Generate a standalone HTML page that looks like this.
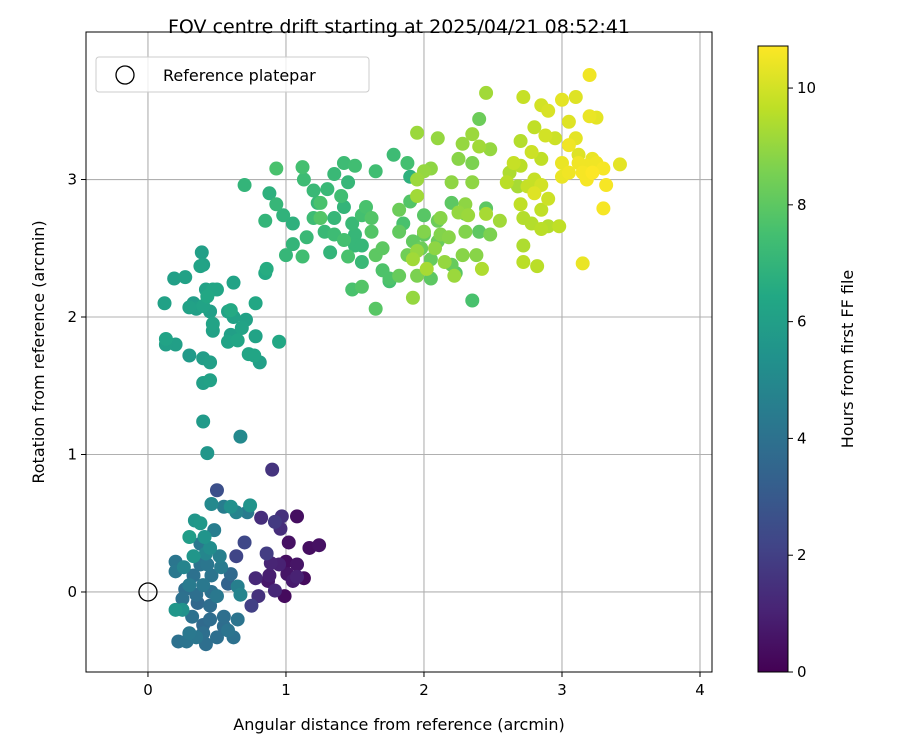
<!DOCTYPE html>
<html><head><meta charset="utf-8"><style>
body{margin:0;background:#fff}
svg{display:block;font-family:"DejaVu Sans","Liberation Sans",sans-serif}
</style></head><body>
<svg id="chart" width="900" height="750" viewBox="0 0 900 750">
<defs><linearGradient id="vir" x1="0" y1="1" x2="0" y2="0">
<stop offset="0" stop-color="#440154"/><stop offset="0.1" stop-color="#482475"/><stop offset="0.2" stop-color="#414487"/><stop offset="0.3" stop-color="#355f8d"/><stop offset="0.4" stop-color="#2a788e"/><stop offset="0.5" stop-color="#21918c"/><stop offset="0.6" stop-color="#22a884"/><stop offset="0.7" stop-color="#44bf70"/><stop offset="0.8" stop-color="#7ad151"/><stop offset="0.9" stop-color="#bddf26"/><stop offset="1" stop-color="#fde725"/>
</linearGradient></defs>
<text x="399" y="33" font-size="19" text-anchor="middle">FOV centre drift starting at 2025/04/21 08:52:41</text>
<g id="grid"></g><g id="pts"></g><g id="axes"></g>
<g>
<rect x="96" y="57" width="273" height="35" rx="3" fill="#fff" fill-opacity="0.8" stroke="#ccc"/>
<circle cx="125" cy="75" r="9" fill="none" stroke="#000" stroke-width="1.3"/>
<text x="163" y="81" font-size="16">Reference platepar</text>
</g>
<text x="399" y="730" font-size="16" text-anchor="middle">Angular distance from reference (arcmin)</text>
<text transform="translate(44,352) rotate(-90)" font-size="16" text-anchor="middle">Rotation from reference (arcmin)</text>
<rect x="758" y="46" width="30" height="626" fill="url(#vir)" stroke="#000" stroke-width="1"/>
<g id="cbticks"></g>
<text transform="translate(853,359) rotate(-90)" font-size="16" text-anchor="middle">Hours from first FF file</text>
</svg>
<script>
const xTicks=[0,1,2,3,4];
const yTicks=[0,1,2,3];
const cbTicks=[0,2,4,6,8,10];
const xVals=[0.90,1.02,1.00,1.08,1.13,1.05,0.95,0.87,0.92,0.99,1.17,1.24,1.08,0.97,0.92,0.96,0.86,0.78,0.80,0.89,0.64,1.08,0.75,0.88,1.01,0.82,0.70,
0.5,0.46,0.64,0.6,0.72,0.74,0.55,0.34,0.38,0.41,0.3,0.45,0.52,0.33,0.38,0.26,0.2,0.2,0.46,0.58,0.4,0.3,0.65,0.35,0.25,0.5,0.45,0.2,0.25,0.32,0.45,0.55,0.65,0.58,0.4,0.35,0.22,0.3,0.5,0.62,0.55,0.42,0.28,0.6,0.42,0.48,0.38,0.33,0.27,0.43,0.36,0.46,0.53,0.4,0.67,
0.43,0.67,0.4,0.4,0.45,0.45,0.4,0.3,0.2,0.13,0.13,0.58,0.6,0.68,0.71,0.47,0.47,0.35,0.3,0.4,0.43,0.47,0.42,0.65,0.77,0.73,0.81,0.95,0.78,0.78,0.58,0.62,0.33,0.12,0.19,0.27,0.38,0.4,0.39,0.62,0.5,0.45,0.85,0.86,0.6,
0.7,0.93,0.88,0.93,1.12,1.13,1.2,1.23,0.98,0.85,1.05,1.2,1.25,1.15,1.05,1.0,1.12,1.3,1.35,1.35,1.42,1.5,1.35,1.45,1.4,1.42,1.48,1.55,1.5,1.45,1.5,1.55,1.48,1.55,1.65,1.65,1.7,1.75,1.62,1.7,1.65,1.78,1.88,1.9,1.92,1.85,1.82,1.88,1.82,1.95,1.62,1.42,1.28,1.25,1.55,1.58,1.32,1.75,2.0,2.1,2.2,1.82,2.0,1.9,2.05,2.2,2.23,2.35,2.05,2.4,1.98,2.45,2.3,2.1,
1.95,2.1,2.25,2.05,1.95,2.0,2.35,2.4,2.28,2.35,2.45,2.4,2.48,1.95,2.2,2.25,2.32,2.45,2.55,2.48,2.3,2.18,2.28,2.12,2.08,1.95,1.92,2.02,2.15,2.22,2.42,2.38,1.92,2.0,2.12,2.3,2.35,2.62,2.6,
2.65,2.7,2.75,2.7,2.72,2.78,2.72,2.72,2.68,2.7,2.72,2.85,2.9,2.8,2.88,2.95,2.85,2.78,2.8,2.85,2.9,2.8,2.85,2.85,2.9,2.98,2.82,3.0,3.1,3.2,3.2,3.25,3.05,3.1,3.05,3.12,3.0,3.05,3.15,3.18,3.22,3.25,3.3,3.32,3.3,3.22,3.0,3.42,3.15,3.18,3.12];
const yVals=[0.89,0.36,0.22,0.20,0.10,0.08,0.20,0.08,0.01,-0.03,0.32,0.34,0.55,0.55,0.51,0.46,0.28,0.10,-0.03,0.21,0.26,0.11,-0.10,0.12,0.13,0.54,0.36,
0.74,0.64,0.58,0.62,0.58,0.63,0.62,0.52,0.5,0.4,0.4,0.32,0.26,0.26,0.2,0.18,0.22,0.15,0.12,0.06,0.05,0.05,0.04,-0.02,-0.05,-0.03,-0.1,-0.13,-0.13,-0.18,-0.2,-0.18,-0.2,-0.28,-0.3,-0.33,-0.36,-0.3,-0.33,-0.33,-0.25,-0.38,-0.36,0.13,0.28,0.45,0.35,0.12,0.02,0.2,-0.08,0.0,0.18,-0.24,-0.02,
1.01,1.13,1.24,1.52,1.54,1.67,1.7,1.72,1.8,1.8,1.84,1.82,1.87,1.92,1.98,1.9,1.95,2.06,2.07,2.08,2.15,2.2,2.2,1.83,1.72,1.73,1.67,1.82,1.86,2.1,2.04,2.0,2.1,2.1,2.28,2.29,2.37,2.38,2.47,2.25,2.2,2.04,2.32,2.35,2.05,
2.96,3.08,2.9,2.82,3.09,3.0,2.92,2.83,2.74,2.7,2.68,2.72,2.83,2.58,2.53,2.45,2.44,2.93,2.72,2.6,3.12,3.1,3.04,2.98,2.88,2.8,2.68,2.74,2.6,2.44,2.52,2.4,2.2,2.22,2.06,2.45,2.34,2.28,2.62,2.5,3.06,3.18,3.12,3.02,2.55,2.68,2.78,2.45,2.3,2.3,2.72,2.56,2.62,2.72,2.52,2.8,2.47,2.26,2.6,2.7,2.83,2.62,2.74,2.84,2.28,2.38,2.32,2.12,2.42,2.62,2.5,2.79,2.75,2.55,
3.34,3.3,3.15,3.08,3.0,3.06,3.33,3.24,3.26,3.12,3.63,3.44,3.22,2.88,2.98,2.76,2.74,2.75,2.7,2.6,2.62,2.58,2.45,2.6,2.5,2.48,2.42,2.35,2.4,2.3,2.35,2.45,2.14,2.62,2.72,2.82,2.98,3.05,2.98,
3.12,3.1,2.95,2.82,2.72,2.68,2.52,2.4,2.95,3.28,3.6,3.54,3.5,3.38,3.32,3.3,3.15,3.2,3.0,2.96,2.86,2.9,2.78,2.64,2.66,2.66,2.37,3.58,3.6,3.76,3.46,3.45,3.42,3.3,3.25,3.18,3.12,3.05,3.05,3.1,3.15,3.12,3.08,2.96,2.79,3.05,3.02,3.11,2.39,3.0,3.12];
const hours=[1.6,0.5,0.4,0.6,0.3,0.8,1.0,0.7,1.2,0.3,0.4,0.5,0.4,1.5,1.8,1.4,1.9,1.2,1.5,1.1,2.2,1.0,2.0,0.9,0.6,1.4,2.3,
2.6,5.0,4.8,5.3,4.4,5.5,4.5,5.6,5.7,5.5,5.9,5.2,4.6,5.6,4.1,4.8,4.2,4.3,4.1,3.4,4.3,4.4,4.6,3.9,4.0,4.3,3.8,5.6,5.4,4.0,3.8,3.9,4.1,4.1,3.9,4.2,4.0,4.3,3.9,4.0,3.8,3.9,4.1,3.7,4.9,4.5,4.3,4.0,3.9,4.2,3.6,4.0,4.4,3.7,4.8,
5.6,5.0,5.8,6.0,6.1,6.0,5.9,5.8,6.0,6.0,6.2,6.2,6.0,6.2,6.1,6.1,6.2,6.0,6.1,6.2,6.4,6.3,6.1,6.3,6.3,6.3,6.0,6.4,6.2,6.4,6.2,6.1,5.9,6.1,6.0,6.1,6.2,6.1,6.0,6.2,6.3,6.0,6.5,6.6,6.5,
7.0,7.6,6.8,7.1,7.5,7.3,7.2,7.1,6.9,7.0,6.8,7.3,7.6,7.2,7.0,7.1,7.4,7.2,7.1,7.3,7.3,7.4,7.2,7.1,7.4,7.0,7.2,7.5,7.1,7.6,7.1,7.2,7.6,7.8,7.9,8.0,7.7,7.7,7.8,8.0,7.4,7.3,7.5,6.8,8.1,7.6,8.3,8.4,8.2,8.6,7.8,7.5,7.2,7.8,7.1,7.6,7.0,7.5,8.1,8.3,8.0,8.1,7.9,7.8,8.0,8.2,7.9,7.6,8.2,8.0,8.3,8.0,8.2,8.3,
9.1,9.0,8.8,8.9,9.1,9.0,9.1,9.2,9.0,8.6,9.2,8.3,9.0,9.2,8.9,9.0,9.1,9.3,9.2,8.6,8.7,8.8,8.8,8.7,8.9,9.0,9.2,9.3,9.0,9.1,9.4,8.8,9.0,8.7,8.8,8.9,8.9,9.4,9.6,
9.8,9.6,9.8,9.7,9.5,9.5,9.4,9.6,9.3,9.5,9.8,10.0,10.1,9.7,10.0,9.9,9.7,9.9,9.8,10.0,9.9,10.2,9.7,9.6,9.5,9.7,9.6,10.3,10.2,10.5,10.4,10.3,10.2,10.3,10.5,10.2,10.4,10.5,10.6,10.5,10.4,10.5,10.6,10.6,10.6,10.7,10.4,10.3,10.4,10.6,10.5];

const X0=86,X1=712,Y0=32,Y1=672;
const xMin=-0.449,xMax=4.087,yMin=-0.582,yMax=4.073,cMax=10.72;
const sx=v=>X0+(v-xMin)/(xMax-xMin)*(X1-X0);
const sy=v=>Y1-(v-yMin)/(yMax-yMin)*(Y1-Y0);
const NS="http://www.w3.org/2000/svg";
const stops=["#440154","#482475","#414487","#355f8d","#2a788e","#21918c","#22a884","#44bf70","#7ad151","#bddf26","#fde725"];
function hex(h){return [1,3,5].map(i=>parseInt(h.substr(i,2),16));}
function viridis(t){t=Math.max(0,Math.min(1,t))*10;const i=Math.min(9,Math.floor(t)),f=t-i;const a=hex(stops[i]),b=hex(stops[i+1]);return "rgb("+a.map((v,k)=>Math.round(v+(b[k]-v)*f)).join(",")+")";}
function mk(tag,attrs,parent){const e=document.createElementNS(NS,tag);for(const k in attrs)e.setAttribute(k,attrs[k]);parent.appendChild(e);return e;}
const grid=document.getElementById('grid'),axes=document.getElementById('axes'),pts=document.getElementById('pts'),cb=document.getElementById('cbticks');
xTicks.forEach(v=>{const x=sx(v);
 const g=mk('line',{x1:x,x2:x,y1:Y0,y2:Y1,stroke:'#b0b0b0','stroke-width':1.1},grid);
 
 
 mk('line',{x1:x,x2:x,y1:Y1,y2:Y1+5,stroke:'#000'},axes);
 const t=mk('text',{x:x,y:Y1+23,'font-size':15,'text-anchor':'middle'},axes);t.textContent=v;
 
 });
yTicks.forEach(v=>{const y=sy(v);
 const g=mk('line',{x1:X0,x2:X1,y1:y,y2:y,stroke:'#b0b0b0','stroke-width':1.1},grid);
 
 
 mk('line',{x1:X0-5,x2:X0,y1:y,y2:y,stroke:'#000'},axes);
 const t=mk('text',{x:X0-9,y:y+5,'font-size':15,'text-anchor':'end'},axes);t.textContent=v;
 
 });
const fr=mk('rect',{x:X0,y:Y0,width:X1-X0,height:Y1-Y0,fill:'none',stroke:'#000','stroke-width':1},axes);


const idx=hours.map((h,i)=>i).sort((a,b)=>hours[a]-hours[b]);
idx.forEach(i=>{const c=mk('circle',{cx:sx(xVals[i]),cy:sy(yVals[i]),r:7,fill:viridis(hours[i]/cMax)},pts);
 
 });
const ref=mk('circle',{cx:sx(0),cy:sy(0),r:9,fill:'none',stroke:'#000','stroke-width':1.3},axes);


cbTicks.forEach(v=>{const y=672-v/cMax*626;
 mk('line',{x1:788,x2:793,y1:y,y2:y,stroke:'#000'},cb);
 const t=mk('text',{x:797,y:y+5,'font-size':15},cb);t.textContent=v;
 
 });
</script>
</body></html>
